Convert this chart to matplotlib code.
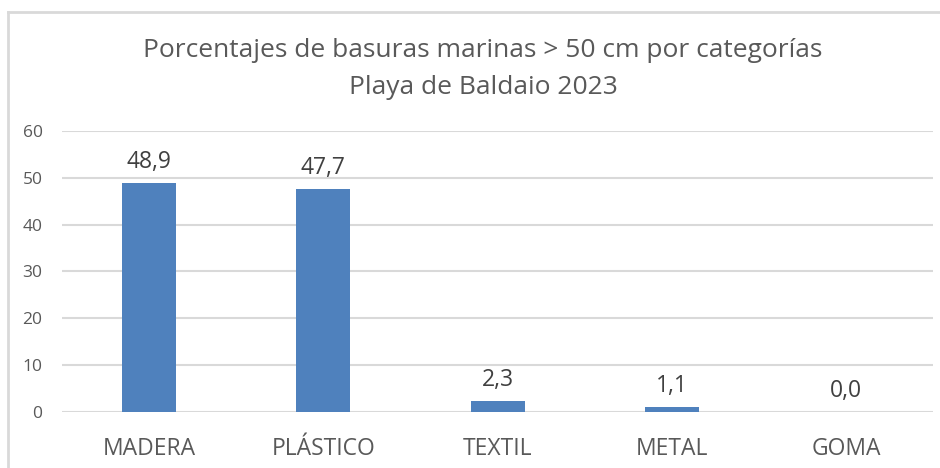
import matplotlib.pyplot as plt
from matplotlib.lines import Line2D

plt.rcParams['font.family'] = ['Open Sans', 'DejaVu Sans']

categorias = ['MADERA', 'PLÁSTICO', 'TEXTIL', 'METAL', 'GOMA']
porcentajes = [48.9, 47.7, 2.3, 1.1, 0.0]
yticks = [0, 10, 20, 30, 40, 50, 60]

txt = '#595959'
grid = '#d9d9d9'
azul = '#4f81bd'

fig = plt.figure(figsize=(9.4, 4.68), dpi=100)
ax = fig.add_axes([0.066, 0.1197, 0.9266, 0.6005])

x = range(len(categorias))
bars = ax.bar(x, porcentajes, width=0.31, color=azul, zorder=3)
for b, v in zip(bars, porcentajes):
    ax.text(b.get_x() + b.get_width() / 2, v + 1.9, f'{v:.1f}'.replace('.', ','),
            ha='center', va='bottom', fontsize=16.5, color='#404040')

ax.set_xlim(-0.5, len(categorias) - 0.5)
ax.set_ylim(0, 60)
ax.set_yticks(yticks)
ax.yaxis.grid(True, color=grid, linewidth=1.5, zorder=0)
ax.set_xticks(list(x))
ax.set_xticklabels(categorias, fontsize=16.5, color=txt)
ax.tick_params(axis='y', labelsize=12.5, labelcolor=txt, length=0, pad=14)
ax.tick_params(axis='x', length=0, pad=18)
for s in ax.spines.values():
    s.set_visible(False)

fig.text(0.514, 0.893, 'Porcentajes de basuras marinas > 50 cm por categorías',
         ha='center', va='center', fontsize=19, color=txt)
fig.text(0.514, 0.812, 'Playa de Baldaio 2023',
         ha='center', va='center', fontsize=19, color=txt)

# marco del gráfico
fig.add_artist(Line2D([8 / 940, 8 / 940], [0, 1 - 12 / 468], color=grid, linewidth=2))
fig.add_artist(Line2D([8 / 940, 1], [1 - 12 / 468, 1 - 12 / 468], color=grid, linewidth=2))

fig.savefig('out.png', dpi=100)
